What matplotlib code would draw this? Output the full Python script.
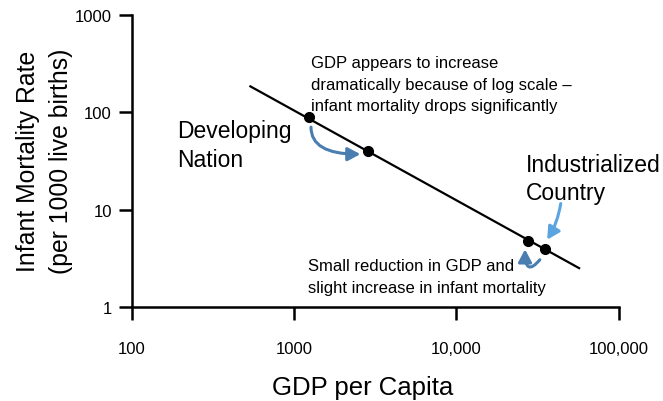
import matplotlib
matplotlib.use("Agg")
import matplotlib.pyplot as plt
import numpy as np

plt.rcParams["font.family"] = ["Liberation Sans", "DejaVu Sans"]

# trend line (GDP per capita vs infant mortality, log-log)
TREND_GDP = [530, 57900]
TREND_IMR = [186, 2.47]

# highlighted countries on the trend
POINT_GDP = [1240, 2850, 27600, 35000]
POINT_IMR = [88.8, 39.9, 4.76, 3.96]

X_TICKS = [100, 1000, 10000, 100000]
X_TICK_LABELS = ["100", "1000", "10,000", "100,000"]
Y_TICKS = [1, 10, 100, 1000]
Y_TICK_LABELS = ["1", "10", "100", "1000"]

DARK_BLUE = "#4a7db0"
LIGHT_BLUE = "#5ba4e0"

W_PX, H_PX, DPI = 663, 402, 100

fig = plt.figure(figsize=(W_PX / DPI, H_PX / DPI), dpi=DPI)
ax = fig.add_axes([0.199, 0.234, 0.734, 0.727])

ax.plot(TREND_GDP, TREND_IMR, color="black", lw=1.6, solid_capstyle="butt")
ax.plot(POINT_GDP, POINT_IMR, "o", color="black", ms=7, zorder=3)

ax.set_xscale("log")
ax.set_yscale("log")
ax.set_xlim(100, 100000)
ax.set_ylim(1, 1000)
ax.set_xticks(X_TICKS)
ax.set_xticklabels(X_TICK_LABELS)
ax.set_yticks(Y_TICKS)
ax.set_yticklabels(Y_TICK_LABELS)
ax.minorticks_off()
ax.tick_params(axis="both", length=9.5, width=1.8, labelsize=12, colors="black")
ax.tick_params(axis="x", pad=15)
ax.tick_params(axis="y", pad=5)

for side in ("top", "right"):
    ax.spines[side].set_visible(False)
for side in ("left", "bottom"):
    ax.spines[side].set_linewidth(1.8)
    ax.spines[side].set_capstyle("projecting")

ax.set_xlabel("GDP per Capita", fontsize=18.5)
ax.xaxis.set_label_coords(0.475, -0.232)
ax.set_ylabel("Infant Mortality Rate\n(per 1000 live births)", fontsize=17.8, linespacing=1.45)
ax.yaxis.set_label_coords(-0.122, 0.5)

# annotations
ax.text(1265, 194, "GDP appears to increase\ndramatically because of log scale –\ninfant mortality drops significantly",
        fontsize=12, va="center", ha="left", linespacing=1.55)
ax.text(191, 46, "Developing\nNation", fontsize=16.5, va="center", ha="left", linespacing=1.3)
ax.text(26850, 20.9, "Industrialized\nCountry", fontsize=16.5, va="center", ha="left", linespacing=1.3)
ax.text(1210, 2.06, "Small reduction in GDP and\nslight increase in infant mortality",
        fontsize=12, va="center", ha="left", linespacing=1.55)

arrow_kw = dict(arrowstyle="-|>,head_length=0.75,head_width=0.4", lw=2.2, shrinkA=0, shrinkB=0)
ax.annotate("", xy=(2560, 37), xytext=(1270, 70),
            arrowprops=dict(color=DARK_BLUE, connectionstyle="angle3,angleA=-90,angleB=0", **arrow_kw))
ax.annotate("", xy=(36300, 4.9), xytext=(44000, 11.5),
            arrowprops=dict(color=LIGHT_BLUE, connectionstyle="arc3,rad=-0.1", **arrow_kw))
ax.annotate("", xy=(26500, 3.9), xytext=(32700, 3.05),
            arrowprops=dict(color=DARK_BLUE, connectionstyle="angle3,angleA=-130,angleB=90", **arrow_kw))

fig.savefig("out.png", dpi=DPI, facecolor="white")
